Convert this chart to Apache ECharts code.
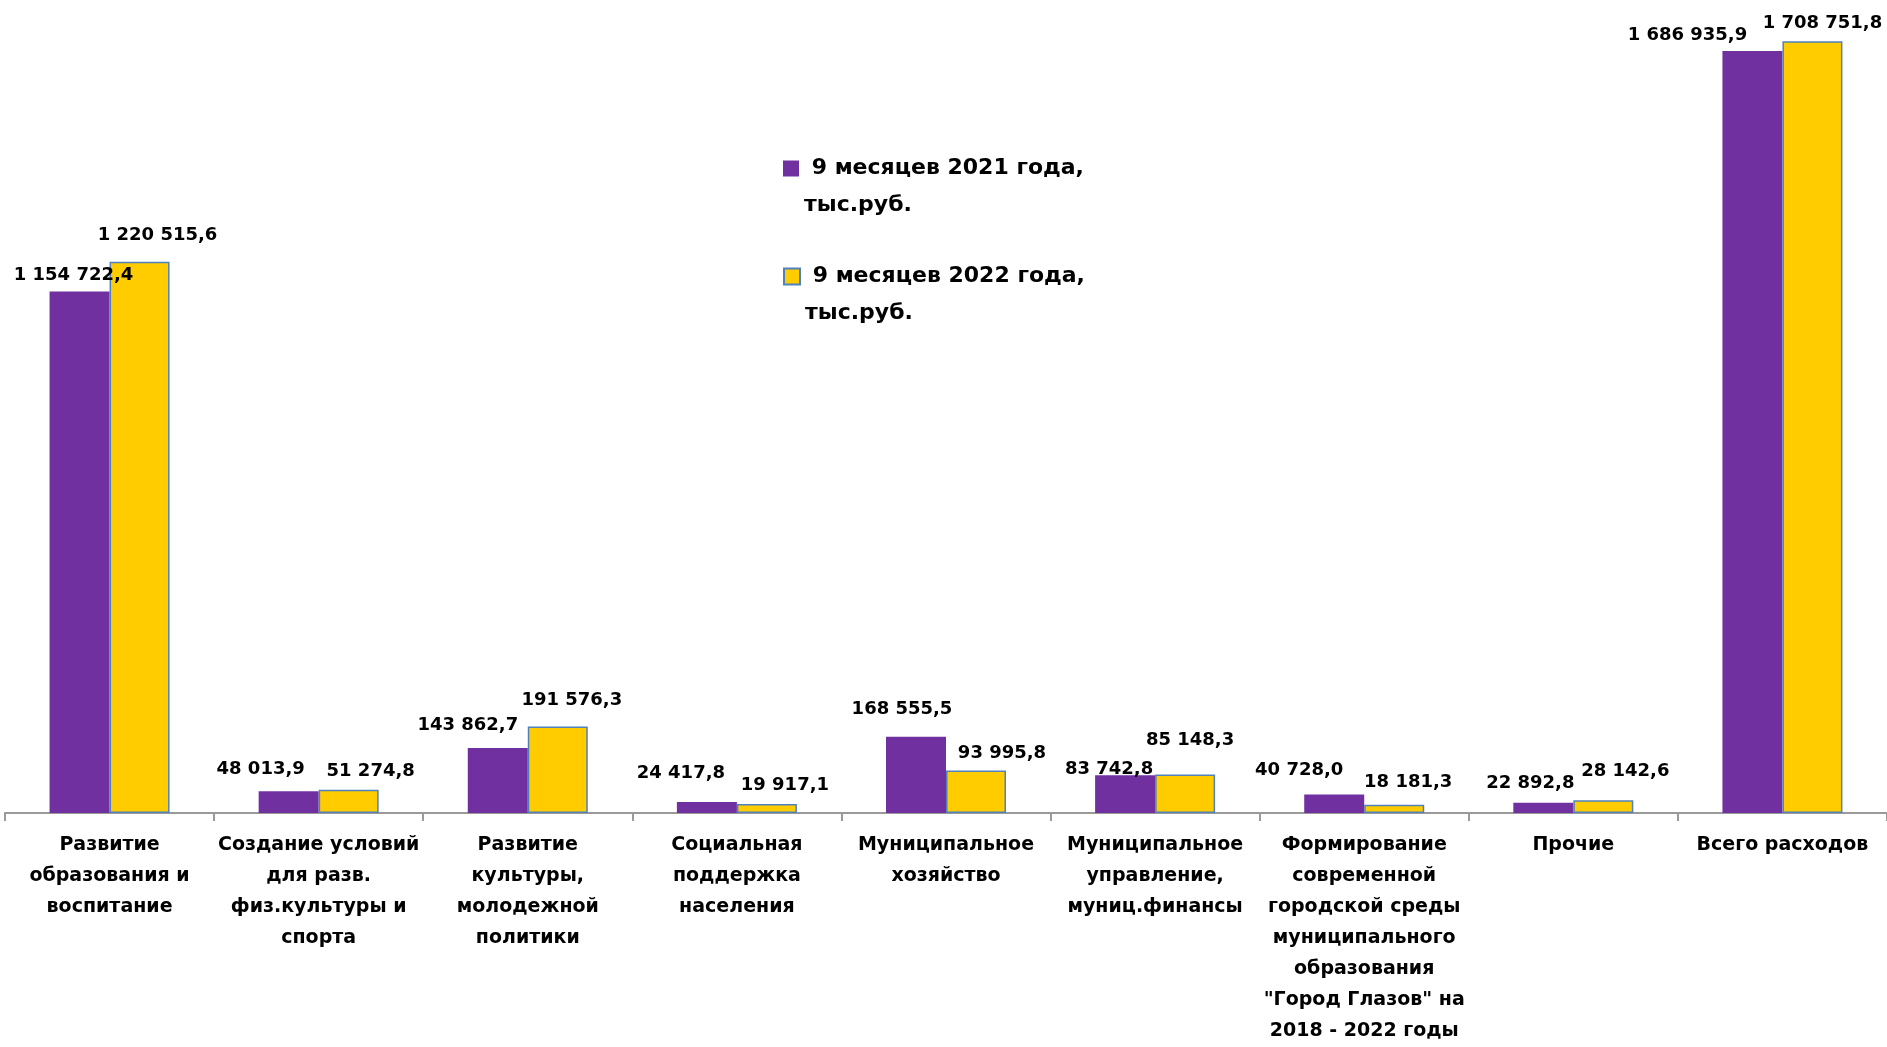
<!DOCTYPE html>
<html>
<head>
<meta charset="utf-8">
<script src="https://cdn.jsdelivr.net/npm/echarts@6/dist/echarts.min.js"></script>
<style>html,body{margin:0;padding:0;background:#fff;}#c{width:1887px;height:1047px;}</style>
</head>
<body>
<div id="c"></div>
<script>
const categories = [
  "Развитие\nобразования и\nвоспитание",
  "Создание условий\nдля разв.\nфиз.культуры и\nспорта",
  "Развитие\nкультуры,\nмолодежной\nполитики",
  "Социальная\nподдержка\nнаселения",
  "Муниципальное\nхозяйство",
  "Муниципальное\nуправление,\nмуниц.финансы",
  "Формирование\nсовременной\nгородской среды\nмуниципального\nобразования\n\"Город Глазов\" на\n2018 - 2022 годы",
  "Прочие",
  "Всего расходов"
];
const seriesNames = ["9 месяцев 2021 года, тыс.руб.", "9 месяцев 2022 года, тыс.руб."];
const values2021 = [1154722.4, 48013.9, 143862.7, 24417.8, 168555.5, 83742.8, 40728.0, 22892.8, 1686935.9];
const values2022 = [1220515.6, 51274.8, 191576.3, 19917.1, 93995.8, 85148.3, 18181.3, 28142.6, 1708751.8];

// label placement tweaks (presentation only)
const labelShift2021 = [[-6,-5],[-28,-11],[-30,-12],[-26,-18],[-14,-17],[-16,5],[-35,-13],[-13,-8],[-65,-5]];
const labelShift2022 = [[18,-15],[22,-8],[14,-15],[18,-8],[26,-6],[5,-23],[14,-11],[22,-18],[10,-7]];

function fmt(v) {
  const parts = v.toFixed(1).split('.');
  return parts[0].replace(/\B(?=(\d{3})+(?!\d))/g, ' ') + ',' + parts[1];
}
const FONT = '"DejaVu Sans", sans-serif';

function buildData(vals, shifts) {
  return vals.map((v, i) => ({ value: v, label: { offset: shifts[i] } }));
}

const chart = echarts.init(document.getElementById('c'));
chart.setOption({
  animation: false,
  backgroundColor: '#ffffff',
  grid: { left: 5, right: 0, top: 0, bottom: 229, containLabel: false },
  legend: [
    {
      data: [seriesNames[0]], orient: 'vertical', left: 778, top: 108,
      itemWidth: 16, itemHeight: 16, icon: 'rect',
      formatter: () => '\n 9 месяцев 2021 года,\nтыс.руб.',
      textStyle: { fontFamily: FONT, fontWeight: 'bold', fontSize: 22, lineHeight: 37, color: '#000' }
    },
    {
      data: [seriesNames[1]], orient: 'vertical', left: 778, top: 216,
      itemWidth: 16, itemHeight: 16, icon: 'rect',
      formatter: () => '\n 9 месяцев 2022 года,\nтыс.руб.',
      textStyle: { fontFamily: FONT, fontWeight: 'bold', fontSize: 22, lineHeight: 37, color: '#000' }
    }
  ],
  xAxis: {
    type: 'category',
    data: categories,
    axisLine: { lineStyle: { color: '#9a9a9a', width: 2 } },
    axisTick: { show: true, length: 8, lineStyle: { color: '#9a9a9a', width: 2 } },
    axisLabel: {
      interval: 0, margin: 17, color: '#000', fontFamily: FONT, fontWeight: 'bold',
      fontSize: 19, lineHeight: 31, align: 'center'
    }
  },
  yAxis: {
    type: 'value', min: 0, max: 1800000, show: false,
    splitLine: { show: false }
  },
  series: [
    {
      name: seriesNames[0], type: 'bar', barWidth: 60, barGap: '0%',
      data: buildData(values2021, labelShift2021),
      itemStyle: { color: '#7030A0' },
      label: {
        show: true, position: 'top', distance: 0, color: '#000',
        fontFamily: FONT, fontWeight: 'bold', fontSize: 18, lineHeight: 22,
        formatter: p => fmt(p.value)
      }
    },
    {
      name: seriesNames[1], type: 'bar', barWidth: 60, barGap: '0%',
      data: buildData(values2022, labelShift2022),
      itemStyle: { color: '#FFCC00', borderColor: '#4F81BD', borderWidth: 1.5 },
      label: {
        show: true, position: 'top', distance: 0, color: '#000',
        fontFamily: FONT, fontWeight: 'bold', fontSize: 18, lineHeight: 22,
        formatter: p => fmt(p.value)
      }
    }
  ]
});
</script>
</body>
</html>
